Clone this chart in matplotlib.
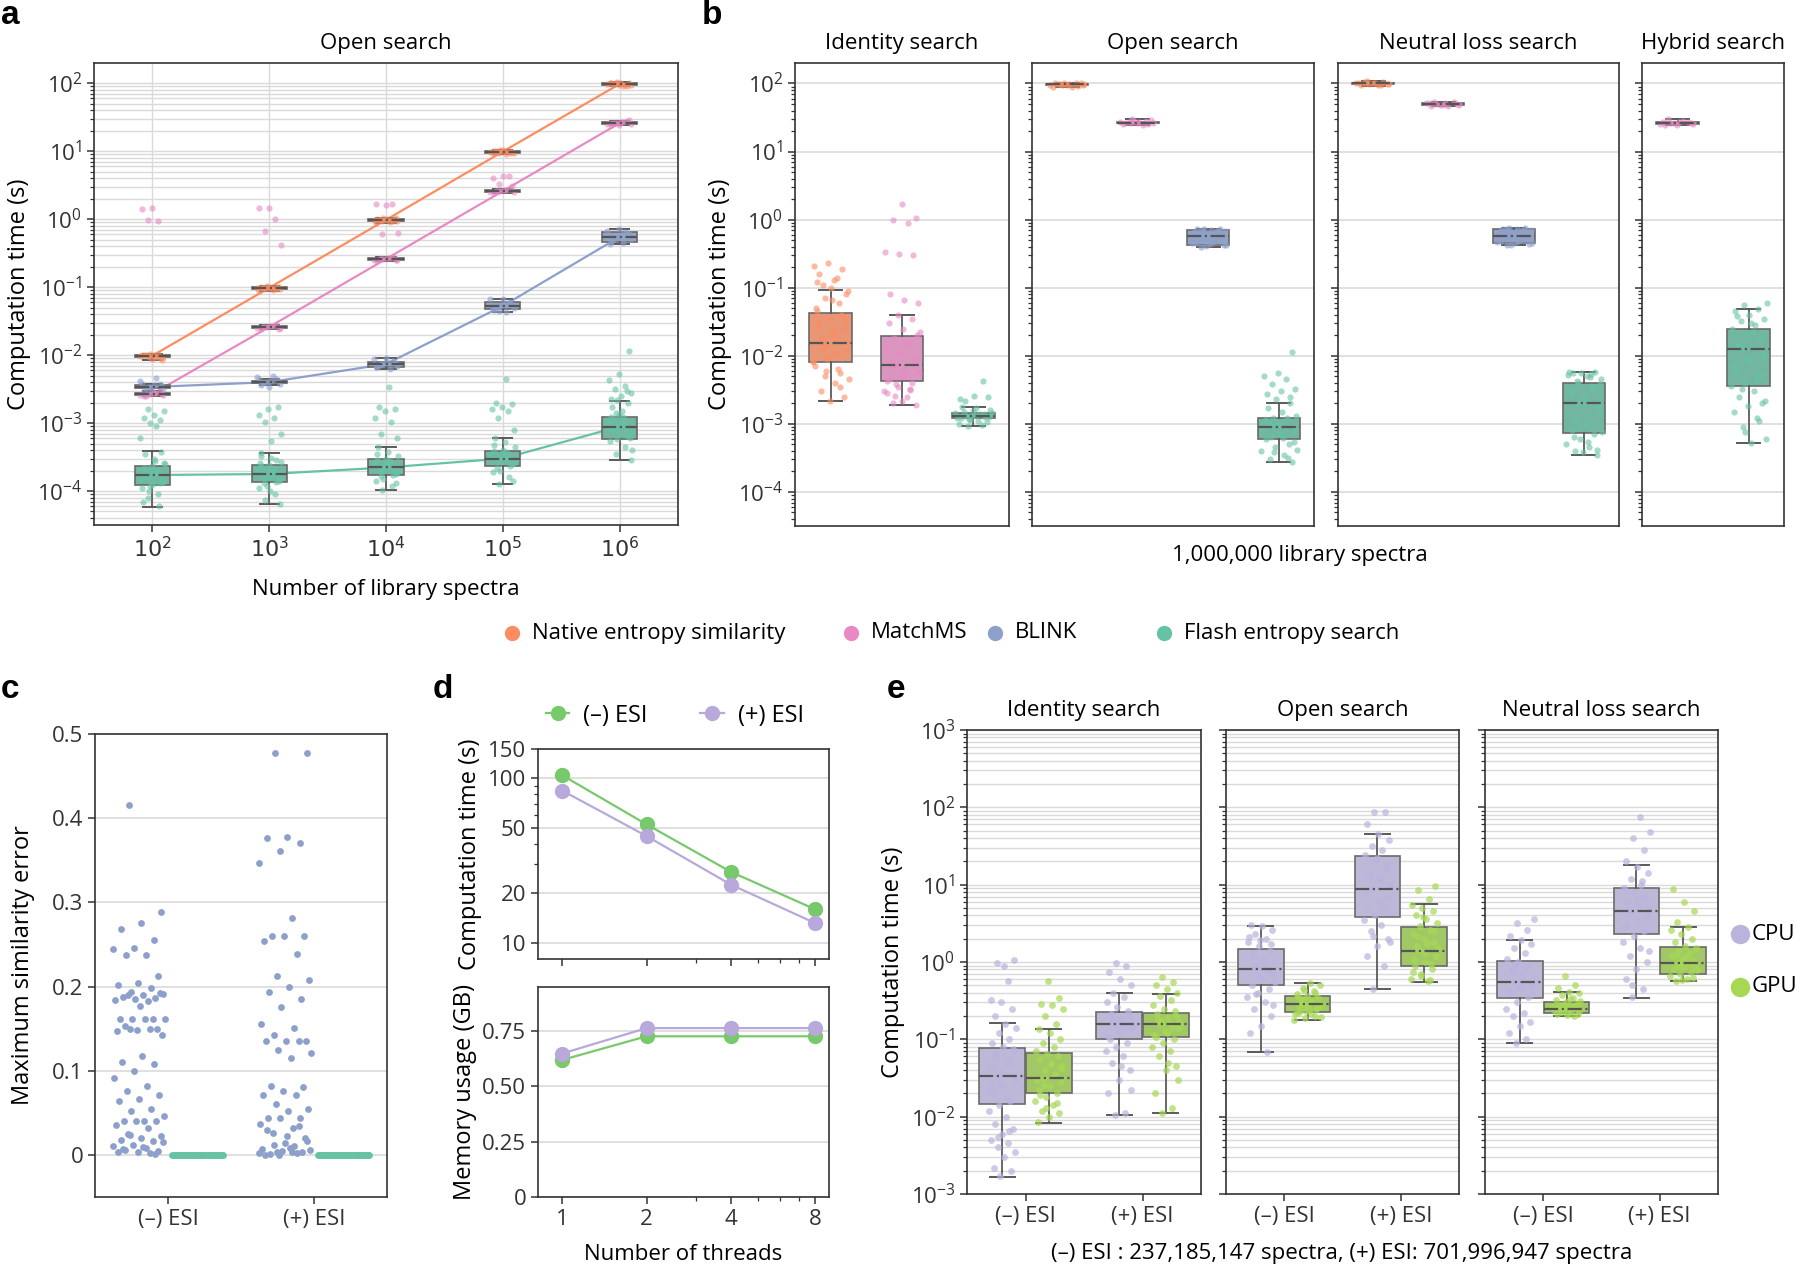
import colorsys
import numpy as np
import matplotlib
matplotlib.use("Agg")
import matplotlib.pyplot as plt
import matplotlib.colors as mcolors
from matplotlib.lines import Line2D
from matplotlib.ticker import LogLocator, NullFormatter, FixedLocator

plt.rcParams['font.family'] = ['Open Sans', 'DejaVu Sans']
plt.rcParams['axes.edgecolor'] = '#333333'
plt.rcParams['xtick.color'] = '#333333'
plt.rcParams['ytick.color'] = '#333333'

# ---------------- data ----------------
COL = {'native': '#fc8d62', 'matchms': '#e78ac3', 'blink': '#8da0cb', 'flash': '#66c2a5'}
METHOD_KEYS = ['native', 'matchms', 'blink', 'flash']
METHOD_NAMES = ['Native entropy similarity', 'MatchMS', 'BLINK', 'Flash entropy search']

# panel a: open search vs number of library spectra
A_SIZES = [r'$10^2$', r'$10^3$', r'$10^4$', r'$10^5$', r'$10^6$']
A_NATIVE = [
    [0.0098, 0.0095, 0.0102, 0.0100, 0.0090, 0.0105, 0.0097, 0.0093, 0.0101, 0.0085, 0.0088, 0.0099, 0.0103, 0.0096],
    [0.098, 0.095, 0.101, 0.100, 0.093, 0.104, 0.097, 0.090, 0.099, 0.102, 0.096, 0.088, 0.100, 0.094],
    [0.98, 0.95, 1.02, 1.00, 0.93, 1.05, 0.97, 0.90, 0.99, 1.03, 0.96, 0.88, 1.01, 0.94],
    [9.9, 9.6, 10.2, 10.0, 9.4, 10.4, 9.7, 9.2, 10.1, 9.8, 10.3, 9.5, 10.0, 9.6],
    [98, 95, 101, 100, 93, 104, 97, 92, 99, 102, 96, 100, 94, 103]]
A_NATIVE_BOX = [(0.0085, 0.0094, 0.0098, 0.0101, 0.0105), (0.088, 0.094, 0.098, 0.101, 0.104),
                (0.88, 0.94, 0.98, 1.01, 1.05), (9.2, 9.6, 9.9, 10.1, 10.4), (92, 96, 98, 101, 104)]
A_MATCHMS = [
    [0.0027, 0.0026, 0.0028, 0.0025, 0.0029, 0.0027, 0.0026, 0.0028, 0.0025, 0.0027, 1.45, 1.40, 0.95, 0.97],
    [0.026, 0.025, 0.027, 0.024, 0.028, 0.026, 0.025, 0.027, 0.026, 0.024, 1.48, 1.46, 1.0, 0.68, 0.42],
    [0.26, 0.25, 0.27, 0.24, 0.28, 0.26, 0.25, 0.27, 0.26, 0.25, 1.6, 1.7, 1.65, 0.6, 0.63],
    [2.6, 2.5, 2.7, 2.45, 2.8, 2.6, 2.55, 2.7, 2.6, 3.1, 4.3, 4.0, 4.4, 3.3],
    [26, 25, 27, 24.5, 28, 26, 25.5, 27, 26, 29, 24.8, 26.5]]
A_MATCHMS_BOX = [(0.0025, 0.0026, 0.0027, 0.0028, 0.0029), (0.024, 0.025, 0.026, 0.027, 0.028),
                 (0.24, 0.25, 0.26, 0.27, 0.28), (2.45, 2.55, 2.6, 2.7, 2.8), (24.5, 25.5, 26, 27, 28)]
A_BLINK = [
    [0.0034, 0.0032, 0.0036, 0.0030, 0.0038, 0.0034, 0.0042, 0.0046, 0.0033, 0.0035, 0.0031, 0.0037],
    [0.0040, 0.0038, 0.0042, 0.0036, 0.0044, 0.0040, 0.0048, 0.0050, 0.0039, 0.0041, 0.0034, 0.0045],
    [0.0074, 0.0070, 0.0078, 0.0066, 0.0082, 0.0074, 0.0088, 0.0062, 0.0072, 0.0076, 0.0090, 0.0068],
    [0.053, 0.050, 0.056, 0.046, 0.060, 0.053, 0.066, 0.043, 0.051, 0.055, 0.068, 0.048, 0.058, 0.045],
    [0.55, 0.52, 0.58, 0.47, 0.62, 0.55, 0.68, 0.44, 0.50, 0.60, 0.72, 0.43, 0.65, 0.57]]
A_BLINK_BOX = [(0.0030, 0.0033, 0.0034, 0.0036, 0.0038), (0.0036, 0.0039, 0.0040, 0.0042, 0.0045),
               (0.0062, 0.0068, 0.0074, 0.0078, 0.0090), (0.043, 0.047, 0.053, 0.060, 0.068),
               (0.43, 0.47, 0.55, 0.66, 0.72)]
# flash entropy values in units of 1e-4 s
A_FLASH = [
    [1.7, 1.5, 1.9, 2.2, 1.3, 1.2, 2.0, 1.8, 1.6, 1.4, 2.3, 1.1, 0.9, 0.8, 2.6, 3.0, 3.5, 3.8, 1.7, 1.5, 1.9,
     2.1, 1.35, 1.25, 0.7, 0.6, 1.0, 2.5, 2.8, 1.65, 1.75, 1.55, 1.45, 2.05, 16, 15, 13, 12, 11, 10, 6, 9],
    [1.75, 1.5, 2.0, 2.35, 1.35, 1.2, 2.1, 1.9, 1.6, 1.4, 2.4, 1.1, 0.9, 0.75, 2.7, 3.1, 3.6, 1.8, 1.55, 1.95,
     2.2, 1.3, 0.65, 1.0, 2.6, 2.9, 1.7, 1.85, 1.65, 2.15, 17, 16, 13, 12, 10.5, 7, 5.5, 3.3],
    [2.2, 1.9, 2.5, 2.9, 1.7, 1.5, 2.6, 2.3, 2.0, 1.8, 3.0, 1.4, 1.2, 1.05, 3.3, 3.8, 4.5, 2.1, 1.95, 2.45,
     2.75, 1.65, 1.3, 2.7, 3.5, 2.25, 2.35, 2.05, 34, 17, 16, 15, 12, 10.5, 7, 6],
    [3.0, 2.6, 3.4, 3.9, 2.3, 2.0, 3.5, 3.1, 2.8, 2.5, 4.0, 1.9, 1.6, 1.25, 4.5, 5.2, 6.0, 2.9, 2.7, 3.3,
     3.7, 2.2, 1.4, 3.6, 4.8, 3.05, 3.15, 2.75, 44, 20, 19, 17, 16, 15, 12, 8],
    [8.8, 7.5, 10, 12.2, 6.5, 5.8, 11, 9.5, 8, 7, 13, 5.5, 4.5, 3.5, 2.9, 15, 17, 20, 9, 8.5, 10.5, 11.5,
     6, 6.8, 9.8, 7.8, 14, 4, 12.5, 8.2, 115, 52, 43, 35, 32, 28, 25, 23, 30, 22]]
A_FLASH_BOX = [(0.58, 1.22, 1.72, 2.3, 3.9), (0.65, 1.35, 1.78, 2.38, 3.6), (1.05, 1.7, 2.22, 2.95, 4.5),
               (1.25, 2.3, 3.0, 3.9, 6.0), (2.9, 5.9, 8.9, 12.5, 21)]

# panel b: 1,000,000 library spectra
B_TITLES = ['Identity search', 'Open search', 'Neutral loss search', 'Hybrid search']
B_METHODS = [['native', 'matchms', 'flash'], ['native', 'matchms', 'blink', 'flash'],
             ['native', 'matchms', 'blink', 'flash'], ['matchms', 'flash']]
B_IDENTITY = [
    [0.015, 0.012, 0.02, 0.03, 0.04, 0.009, 0.008, 0.011, 0.018, 0.025, 0.035, 0.05, 0.06, 0.07, 0.09, 0.13,
     0.16, 0.19, 0.23, 0.21, 0.14, 0.11, 0.08, 0.065, 0.045, 0.0055, 0.006, 0.0045, 0.004, 0.003, 0.0025,
     0.0022, 0.007, 0.0065, 0.013, 0.016, 0.022, 0.028, 0.038, 0.0095, 0.0085, 0.017, 0.014, 0.033, 0.1,
     0.12, 0.0035, 0.005],
    [0.0073, 0.006, 0.005, 0.0045, 0.004, 0.0035, 0.003, 0.0025, 0.002, 0.0019, 0.0022, 0.0028, 0.0033,
     0.0038, 0.0055, 0.0065, 0.008, 0.009, 0.011, 0.013, 0.015, 0.018, 0.02, 0.025, 0.03, 0.035, 0.04, 0.022,
     0.016, 0.0068, 0.0085, 0.0048, 0.0042, 0.0031, 0.0026, 0.06, 0.065, 0.08, 0.3, 0.31, 0.33, 0.9, 1.0,
     1.05, 1.7],
    [0.0013, 0.00125, 0.00135, 0.0012, 0.0014, 0.00115, 0.00145, 0.0011, 0.0015, 0.00105, 0.00155, 0.001,
     0.00095, 0.00092, 0.0016, 0.0017, 0.00175, 0.00128, 0.00132, 0.00122, 0.00138, 0.0022, 0.0025, 0.0026,
     0.0023, 0.0043, 0.00118, 0.00142]]
B_IDENTITY_BOX = [(0.0022, 0.008, 0.0154, 0.042, 0.092), (0.0019, 0.0043, 0.0073, 0.0196, 0.040),
                  (0.00092, 0.0012, 0.0013, 0.00145, 0.00175)]
B_OPEN = [
    [97, 95, 99, 100, 93, 102, 96, 90, 98, 101, 94, 88, 100, 96, 99],
    [26.5, 25.8, 27, 26, 25, 28, 27.5, 24.5, 26.8, 29, 26.2, 25.5, 27.8, 30],
    [0.40, 0.42, 0.44, 0.46, 0.48, 0.50, 0.52, 0.54, 0.56, 0.58, 0.60, 0.62, 0.64, 0.66, 0.68, 0.70, 0.72,
     0.74, 0.41, 0.45, 0.49, 0.53, 0.57, 0.61, 0.65, 0.69, 0.73, 0.43, 0.47, 0.51, 0.55, 0.59, 0.63, 0.67, 0.71],
    [0.00091, 0.0008, 0.0007, 0.0006, 0.0005, 0.00045, 0.0004, 0.00035, 0.0003, 0.00028, 0.001, 0.0011,
     0.0012, 0.00124, 0.0013, 0.0015, 0.0017, 0.002, 0.00095, 0.00085, 0.00075, 0.00065, 0.00055, 0.00105,
     0.00115, 0.00032, 0.00038, 0.00042, 0.00062, 0.00098, 0.0115, 0.0055, 0.005, 0.0045, 0.0038, 0.0033,
     0.003, 0.0027, 0.0025, 0.0023]]
B_OPEN_BOX = [(88, 95, 97, 99, 102), (24.5, 25.8, 26.5, 27.5, 30), (0.40, 0.43, 0.565, 0.70, 0.74),
              (0.00028, 0.00059, 0.00091, 0.00124, 0.002)]
B_NEUTRAL = [
    [100, 98, 102, 96, 104, 99, 101, 94, 106, 97, 103, 100, 95, 107],
    [50, 48, 52, 47, 53, 49, 51, 46, 54, 50, 48.5, 51.5],
    [0.42, 0.44, 0.46, 0.48, 0.50, 0.52, 0.54, 0.56, 0.58, 0.60, 0.62, 0.64, 0.66, 0.68, 0.70, 0.72, 0.74,
     0.76, 0.43, 0.47, 0.51, 0.55, 0.59, 0.63, 0.67, 0.71, 0.75, 0.45, 0.49, 0.53, 0.57, 0.61, 0.65, 0.69, 0.73],
    [0.002, 0.0015, 0.001, 0.0008, 0.0007, 0.0006, 0.0005, 0.00045, 0.0004, 0.00035, 0.0025, 0.003, 0.0035,
     0.004, 0.0045, 0.005, 0.0055, 0.0058, 0.0056, 0.0053, 0.0048, 0.0012, 0.0018, 0.0022, 0.0028, 0.0032,
     0.0009, 0.00075, 0.00055, 0.00065, 0.00042, 0.00038, 0.0057, 0.0054, 0.0042, 0.0038]]
B_NEUTRAL_BOX = [(93, 98, 100, 103, 107), (46, 48.5, 50, 51.5, 54), (0.42, 0.45, 0.57, 0.72, 0.76),
                 (0.00035, 0.00074, 0.002, 0.00405, 0.0058)]
B_HYBRID = [
    [26, 25, 27, 24.5, 27.5, 26.5, 25.5, 28.5, 30, 26, 24.8, 27.2],
    [0.0127, 0.01, 0.008, 0.006, 0.005, 0.004, 0.0036, 0.003, 0.0025, 0.002, 0.0018, 0.0015, 0.0012, 0.0009,
     0.0006, 0.00052, 0.015, 0.018, 0.02, 0.025, 0.028, 0.032, 0.035, 0.04, 0.045, 0.049, 0.055, 0.06, 0.022,
     0.014, 0.011, 0.009, 0.007, 0.0045, 0.0032, 0.0022, 0.03, 0.038, 0.0011, 0.00075]]
B_HYBRID_BOX = [(24.5, 25.5, 26, 27, 30), (0.00052, 0.0036, 0.0127, 0.025, 0.049)]

# panel c: maximum similarity error
C_GROUPS = ['(–) ESI', '(+) ESI']
C_BLINK_NEG = [0.416, 0.289, 0.276, 0.268, 0.255, 0.246, 0.245, 0.238, 0.238, 0.213, 0.204, 0.202, 0.198,
               0.193, 0.191, 0.190, 0.188, 0.186, 0.185, 0.184, 0.183, 0.190, 0.192, 0.177, 0.161, 0.161,
               0.161, 0.161, 0.161, 0.153, 0.149, 0.148, 0.147, 0.149, 0.150, 0.143, 0.118, 0.110, 0.108,
               0.100, 0.091, 0.082, 0.076, 0.071, 0.066, 0.064, 0.054, 0.052, 0.046, 0.040, 0.040, 0.040,
               0.040, 0.036, 0.032, 0.025, 0.022, 0.020, 0.018, 0.016, 0.012, 0.010, 0.008, 0.006, 0.005,
               0.004, 0.003, 0.002, 0.024, 0.015, 0.009, 0.007, 0.001]
C_BLINK_POS = [0.477, 0.477, 0.378, 0.376, 0.370, 0.361, 0.347, 0.282, 0.260, 0.260, 0.260, 0.254, 0.239,
               0.213, 0.208, 0.199, 0.194, 0.185, 0.176, 0.155, 0.151, 0.143, 0.135, 0.135, 0.135, 0.135,
               0.125, 0.121, 0.115, 0.082, 0.081, 0.076, 0.071, 0.071, 0.061, 0.055, 0.052, 0.044, 0.044,
               0.044, 0.037, 0.032, 0.026, 0.020, 0.014, 0.000, 0.002, 0.004, 0.006, 0.008, 0.001, 0.003,
               0.005, 0.007, 0.010, 0.012, 0.017, 0.023, 0.029, 0.034, 0.000, 0.002, 0.004]
C_FLASH_NEG = [0.0] * 40
C_FLASH_POS = [0.0] * 40

# panel d: threads
D_THREADS = [1, 2, 4, 8]
D_TIME_NEG = [104, 52.4, 27, 16]
D_TIME_POS = [84, 44.5, 22.6, 13.2]
D_MEM_NEG = [0.62, 0.727, 0.727, 0.727]
D_MEM_POS = [0.649, 0.764, 0.764, 0.764]

# panel e: CPU vs GPU on full repository
E_TITLES = ['Identity search', 'Open search', 'Neutral loss search']
E_IDENTITY_CPU = [
    [0.034, 0.03, 0.025, 0.02, 0.016, 0.014, 0.012, 0.01, 0.008, 0.007, 0.006, 0.005, 0.0045, 0.004, 0.0035,
     0.003, 0.0022, 0.002, 0.0017, 0.04, 0.05, 0.06, 0.07, 0.08, 0.09, 0.1, 0.12, 0.14, 0.16, 0.2, 0.25, 0.3,
     0.32, 0.57, 0.98, 1.05, 0.9, 0.045, 0.055, 0.028, 0.022, 0.018, 0.065, 0.075, 0.038, 0.027, 0.0065, 0.0055],
    [0.158, 0.14, 0.12, 0.1, 0.09, 0.08, 0.07, 0.06, 0.05, 0.04, 0.03, 0.02, 0.011, 0.0104, 0.17, 0.19, 0.21,
     0.23, 0.26, 0.3, 0.35, 0.4, 0.5, 0.6, 0.75, 0.9, 0.96, 0.15, 0.165, 0.18, 0.2, 0.13, 0.11, 0.145, 0.175,
     0.022, 0.045]]
E_IDENTITY_CPU_BOX = [(0.00166, 0.0144, 0.0336, 0.0767, 0.162), (0.0104, 0.1, 0.158, 0.226, 0.40)]
E_IDENTITY_GPU = [
    [0.032, 0.028, 0.025, 0.022, 0.02, 0.018, 0.016, 0.014, 0.012, 0.011, 0.01, 0.0085, 0.036, 0.04, 0.045,
     0.05, 0.055, 0.06, 0.065, 0.07, 0.08, 0.09, 0.1, 0.12, 0.135, 0.16, 0.2, 0.25, 0.28, 0.29, 0.34, 0.57,
     0.03, 0.035, 0.026, 0.042, 0.048, 0.019, 0.015, 0.013],
    [0.158, 0.14, 0.12, 0.108, 0.1, 0.09, 0.08, 0.07, 0.06, 0.045, 0.04, 0.02, 0.013, 0.0113, 0.17, 0.19,
     0.21, 0.23, 0.25, 0.28, 0.32, 0.36, 0.4, 0.45, 0.5, 0.55, 0.64, 0.15, 0.165, 0.18, 0.2, 0.13, 0.115,
     0.145, 0.175, 0.03, 0.05]]
E_IDENTITY_GPU_BOX = [(0.0084, 0.0204, 0.032, 0.0673, 0.137), (0.0113, 0.108, 0.158, 0.219, 0.38)]
E_OPEN_CPU = [
    [0.82, 0.7, 0.6, 0.5, 0.45, 0.4, 0.35, 0.3, 0.25, 0.2, 0.15, 0.12, 0.069, 0.9, 1.0, 1.1, 1.2, 1.4, 1.6,
     1.8, 2.0, 2.3, 2.6, 2.9, 3.0, 0.75, 0.65, 0.55, 0.95, 1.3, 1.7, 1.9, 2.1, 0.85, 0.38, 0.28],
    [8.7, 7, 6, 5, 4.5, 4, 3.5, 3, 2.5, 2, 1.6, 1.2, 0.9, 0.45, 10, 12, 14, 16, 20, 24, 28, 32, 38, 45, 60,
     87, 86, 9.5, 11, 13, 18, 22, 7.5, 5.5, 2.2, 1.8]]
E_OPEN_CPU_BOX = [(0.069, 0.505, 0.82, 1.47, 2.92), (0.45, 3.85, 8.7, 23.4, 45)]
E_OPEN_GPU = [
    [0.286, 0.26, 0.24, 0.22, 0.2, 0.19, 0.18, 0.3, 0.32, 0.34, 0.36, 0.38, 0.42, 0.46, 0.5, 0.54, 0.27,
     0.25, 0.23, 0.21, 0.31, 0.33, 0.29, 0.28, 0.35, 0.4, 0.44, 0.195, 0.215, 0.235, 0.255, 0.275],
    [1.39, 1.2, 1.0, 0.9, 0.8, 0.7, 0.6, 0.56, 1.6, 1.8, 2.0, 2.3, 2.6, 2.9, 3.2, 3.6, 4.0, 4.5, 5.0, 5.5,
     6.5, 8.5, 9.5, 1.3, 1.1, 0.95, 0.65, 1.5, 1.7, 2.2, 2.5, 3.8, 0.75, 0.58]]
E_OPEN_GPU_BOX = [(0.18, 0.229, 0.286, 0.36, 0.54), (0.557, 0.88, 1.39, 2.83, 5.56)]
E_NEUTRAL_CPU = [
    [0.557, 0.5, 0.45, 0.4, 0.35, 0.3, 0.25, 0.22, 0.2, 0.17, 0.15, 0.12, 0.1, 0.089, 0.6, 0.7, 0.8, 0.9,
     1.0, 1.1, 1.3, 1.5, 1.7, 1.9, 2.2, 2.6, 3.2, 3.56, 0.65, 0.75, 0.52, 0.48, 0.42, 0.85, 0.95, 0.38],
    [4.52, 4, 3.5, 3, 2.5, 2.2, 1.8, 1.5, 1.2, 1.0, 0.8, 0.6, 0.45, 0.35, 5, 5.5, 6, 7, 8, 9, 10, 12, 14, 17,
     20, 28, 40, 48, 75.5, 4.8, 3.8, 6.5, 2.8, 11, 0.5, 1.4]]
E_NEUTRAL_CPU_BOX = [(0.089, 0.343, 0.557, 1.02, 1.9), (0.346, 2.28, 4.52, 9.04, 18)]
E_NEUTRAL_GPU = [
    [0.245, 0.23, 0.22, 0.21, 0.2, 0.25, 0.26, 0.27, 0.28, 0.29, 0.3, 0.32, 0.34, 0.37, 0.4, 0.41, 0.46,
     0.5, 0.66, 0.24, 0.235, 0.225, 0.215, 0.205, 0.255, 0.265, 0.275, 0.31, 0.33],
    [0.98, 0.9, 0.85, 0.8, 0.75, 0.7, 0.65, 0.6, 0.56, 1.05, 1.1, 1.2, 1.3, 1.4, 1.5, 1.6, 1.8, 2.0, 2.3,
     2.6, 2.8, 3.3, 4.5, 6, 8.9, 0.95, 0.88, 0.78, 1.15, 1.25, 0.62, 0.58]]
E_NEUTRAL_GPU_BOX = [(0.2, 0.217, 0.245, 0.307, 0.414), (0.56, 0.71, 0.98, 1.58, 2.8)]

CPU_COL = '#bab3dd'
GPU_COL = '#a6d854'
D_NEG_COL = '#78c86c'
D_POS_COL = '#b9a8db'

# ---------------- helpers ----------------
W, H = 1800, 1273
fig = plt.figure(figsize=(18, 12.73), dpi=100)
FS = 16
GRID = '#dadada'


def add_ax(l, t, r, b):
    return fig.add_axes([l / W, 1 - b / H, (r - l) / W, (b - t) / H])


def desat(c, f=0.75):
    r, g, b = mcolors.to_rgb(c)
    h, l, s = colorsys.rgb_to_hls(r, g, b)
    return colorsys.hls_to_rgb(h, l, s * f)


def jitter(n, half):
    k = np.arange(n)
    return ((k * 0.6180339887 + 0.31) % 1.0 - 0.5) * 2 * half


def draw_group(ax, pos, values, stats, color, width, spread, size=20, alpha=0.6):
    lo, q1, med, q3, hi = stats
    st = [dict(whislo=lo, q1=q1, med=med, q3=q3, whishi=hi, fliers=[])]
    res = ax.bxp(st, positions=[pos], widths=width, capwidths=width * 0.55, patch_artist=True,
                 showfliers=False, manage_ticks=False, zorder=2,
                 boxprops=dict(facecolor=desat(color), edgecolor='#6a6a6a', linewidth=1.2),
                 medianprops=dict(color='#555555', linestyle='-.', linewidth=1.6),
                 whiskerprops=dict(color='#5a5a5a', linewidth=1.3),
                 capprops=dict(color='#5a5a5a', linewidth=1.4))
    res['medians'][0].set_zorder(4)
    vals = np.asarray(values, dtype=float)
    ax.scatter(pos + jitter(len(vals), spread), vals, s=size, color=color, alpha=alpha,
               linewidths=0, zorder=3)


def log_axis(ax, lo, hi, labels=True):
    ax.set_yscale('log')
    ax.set_ylim(lo, hi)
    ax.yaxis.set_major_locator(LogLocator(base=10, numticks=20))
    ax.yaxis.set_minor_locator(LogLocator(base=10, subs=np.arange(2, 10), numticks=20))
    ax.yaxis.set_minor_formatter(NullFormatter())
    if not labels:
        ax.tick_params(axis='y', labelleft=False)


def style(ax):
    for s in ax.spines.values():
        s.set_linewidth(1.2)
    ax.tick_params(labelsize=FS, length=5, width=1.1)
    ax.tick_params(which='minor', length=3, width=0.9)


# ---------------- panel a ----------------
ax = add_ax(94, 63, 678, 525)
style(ax)
log_axis(ax, 10 ** -4.5, 10 ** 2.3)
ax.grid(True, which='both', axis='y', color=GRID, lw=1.0, zorder=0)
ax.grid(True, which='major', axis='x', color=GRID, lw=1.0, zorder=0)
ax.set_axisbelow(True)
xs = np.arange(len(A_SIZES))
flash_a = [[v * 1e-4 for v in grp] for grp in A_FLASH]
flash_box = [tuple(v * 1e-4 for v in b) for b in A_FLASH_BOX]
series_a = [('flash', flash_a, flash_box), ('blink', A_BLINK, A_BLINK_BOX),
            ('matchms', A_MATCHMS, A_MATCHMS_BOX), ('native', A_NATIVE, A_NATIVE_BOX)]
for key, vals, boxes in series_a:
    ax.plot(xs, [b[2] for b in boxes], color=COL[key], lw=1.6, zorder=1.5)
    for i in range(len(xs)):
        draw_group(ax, xs[i], vals[i], boxes[i], COL[key], 0.3, 0.11)
ax.set_xlim(-0.5, 4.5)
ax.set_xticks(xs)
ax.set_xticklabels(A_SIZES)
ax.set_ylabel('Computation time (s)', fontsize=FS + 1)
ax.set_xlabel('Number of library spectra', fontsize=FS, labelpad=12)
ax.set_title('Open search', fontsize=FS, pad=10)

# ---------------- panel b ----------------
b_bounds = [(795, 1009), (1032, 1314), (1338, 1619), (1642, 1784)]
b_values = [B_IDENTITY, B_OPEN, B_NEUTRAL, B_HYBRID]
b_boxes = [B_IDENTITY_BOX, B_OPEN_BOX, B_NEUTRAL_BOX, B_HYBRID_BOX]
for k, (l, r) in enumerate(b_bounds):
    ax = add_ax(l, 63, r, 526)
    style(ax)
    log_axis(ax, 10 ** -4.5, 10 ** 2.3, labels=(k == 0))
    ax.grid(True, which='major', axis='y', color=GRID, lw=1.2, zorder=0)
    ax.set_axisbelow(True)
    methods = B_METHODS[k]
    for j, m in enumerate(methods):
        draw_group(ax, j, b_values[k][j], b_boxes[k][j], COL[m], 0.6, 0.26)
    ax.set_xlim(-0.5, len(methods) - 0.5)
    ax.set_xticks([])
    ax.set_title(B_TITLES[k], fontsize=FS, pad=10)
    if k == 0:
        ax.set_ylabel('Computation time (s)', fontsize=FS + 1)
fig.text(1300 / W, 1 - 555 / H, '1,000,000 library spectra', ha='center', va='center', fontsize=FS)

# legend row, entries placed individually
LEG_X = [512, 851, 995, 1164]
for key, name, x in zip(METHOD_KEYS, METHOD_NAMES, LEG_X):
    fig.add_artist(Line2D([x / W], [1 - 633 / H], marker='o', ls='', color=COL[key], markersize=10,
                          transform=fig.transFigure))
    fig.text((x + 20) / W, 1 - 633 / H, name, ha='left', va='center', fontsize=FS)

# ---------------- panel c ----------------
ax = add_ax(95, 734, 387, 1197)
style(ax)
ax.set_ylim(-0.05, 0.5)
ax.set_xlim(-0.5, 1.5)
ax.set_yticks([0, 0.1, 0.2, 0.3, 0.4, 0.5])
ax.set_yticklabels(['0', '0.1', '0.2', '0.3', '0.4', '0.5'])
ax.grid(True, axis='y', color=GRID, lw=1.2, zorder=0)
ax.set_axisbelow(True)
for i, (bl, fl) in enumerate([(C_BLINK_NEG, C_FLASH_NEG), (C_BLINK_POS, C_FLASH_POS)]):
    ax.scatter(i - 0.2 + jitter(len(bl), 0.18), bl, s=24, color=COL['blink'], linewidths=0, zorder=3)
    ax.scatter(i + 0.2 + jitter(len(fl), 0.18), fl, s=24, color=COL['flash'], linewidths=0, zorder=3)
ax.set_xticks([0, 1])
ax.set_xticklabels(C_GROUPS)
ax.set_ylabel('Maximum similarity error', fontsize=FS + 1, labelpad=12)

# ---------------- panel d ----------------
axt = add_ax(538, 749, 829, 959)
axm = add_ax(538, 987, 829, 1197)
for a_ in (axt, axm):
    style(a_)
    a_.set_xscale('log', base=2)
    a_.set_xlim(0.82, 8.96)
    a_.xaxis.set_major_locator(FixedLocator(D_THREADS))
    a_.xaxis.set_minor_locator(FixedLocator([3, 5, 6, 7]))
    a_.xaxis.set_minor_formatter(NullFormatter())
    a_.set_axisbelow(True)
axt.set_xticklabels([])
axm.set_xticklabels([str(t) for t in D_THREADS])
axt.set_yscale('log')
axt.set_ylim(8, 150)
axt.yaxis.set_major_locator(FixedLocator([10, 20, 50, 100, 150]))
axt.set_yticklabels(['10', '20', '50', '100', '150'])
axt.yaxis.set_minor_locator(FixedLocator([30, 40, 60, 70, 80, 90]))
axt.yaxis.set_minor_formatter(NullFormatter())
axt.grid(True, axis='y', which='major', color=GRID, lw=1.2)
axt.plot(D_THREADS, D_TIME_NEG, '-o', color=D_NEG_COL, markersize=10, lw=1.6, label='(–) ESI')
axt.plot(D_THREADS, D_TIME_POS, '-o', color=D_POS_COL, markersize=10, lw=1.6, label='(+) ESI')
axt.set_ylabel('Computation time (s)', fontsize=FS + 1)
axt.legend(loc='lower center', bbox_to_anchor=(0.47, 1.0), ncol=2, frameon=False, fontsize=FS + 1,
           columnspacing=2.2, handletextpad=0.6, handlelength=1.0)
axm.set_ylim(0, 0.95)
axm.set_yticks([0, 0.25, 0.5, 0.75])
axm.set_yticklabels(['0', '0.25', '0.50', '0.75'])
axm.grid(True, axis='y', color=GRID, lw=1.2)
axm.plot(D_THREADS, D_MEM_NEG, '-o', color=D_NEG_COL, markersize=10, lw=1.6)
axm.plot(D_THREADS, D_MEM_POS, '-o', color=D_POS_COL, markersize=10, lw=1.6)
axm.set_ylabel('Memory usage (GB)', fontsize=FS + 1)
axm.set_xlabel('Number of threads', fontsize=FS, labelpad=10)

# ---------------- panel e ----------------
e_bounds = [(967, 1201), (1226, 1459), (1485, 1718)]
e_cpu = [E_IDENTITY_CPU, E_OPEN_CPU, E_NEUTRAL_CPU]
e_cpu_box = [E_IDENTITY_CPU_BOX, E_OPEN_CPU_BOX, E_NEUTRAL_CPU_BOX]
e_gpu = [E_IDENTITY_GPU, E_OPEN_GPU, E_NEUTRAL_GPU]
e_gpu_box = [E_IDENTITY_GPU_BOX, E_OPEN_GPU_BOX, E_NEUTRAL_GPU_BOX]
for k, (l, r) in enumerate(e_bounds):
    ax = add_ax(l, 730, r, 1194)
    style(ax)
    log_axis(ax, 1e-3, 1e3, labels=(k == 0))
    ax.grid(True, which='both', axis='y', color=GRID, lw=1.0, zorder=0)
    ax.set_axisbelow(True)
    for i in range(2):
        draw_group(ax, i - 0.2, e_cpu[k][i], e_cpu_box[k][i], CPU_COL, 0.39, 0.12, size=24, alpha=0.7)
        draw_group(ax, i + 0.2, e_gpu[k][i], e_gpu_box[k][i], GPU_COL, 0.39, 0.12, size=24, alpha=0.7)
    ax.set_xlim(-0.5, 1.5)
    ax.set_xticks([0, 1])
    ax.set_xticklabels(C_GROUPS)
    ax.set_title(E_TITLES[k], fontsize=FS, pad=10)
    if k == 0:
        ax.set_ylabel('Computation time (s)', fontsize=FS + 1)
fig.text(1342 / W, 1 - 1253 / H, '(–) ESI : 237,185,147 spectra, (+) ESI: 701,996,947 spectra',
         ha='center', va='center', fontsize=FS)
for name, col, y in [('CPU', CPU_COL, 934), ('GPU', GPU_COL, 987)]:
    fig.add_artist(Line2D([1740 / W], [1 - y / H], marker='o', ls='', color=col, markersize=13,
                          transform=fig.transFigure))
    fig.text(1752 / W, 1 - y / H, name, ha='left', va='center', fontsize=FS)

# panel letters
for lab, x, y in [('a', 10, 16), ('b', 712, 16), ('c', 10, 690), ('d', 443, 690), ('e', 896, 690)]:
    fig.text(x / W, 1 - y / H, lab, fontsize=24, fontweight='bold', ha='center', va='center',
             family='Liberation Sans')

fig.savefig('out.png', dpi=100)
